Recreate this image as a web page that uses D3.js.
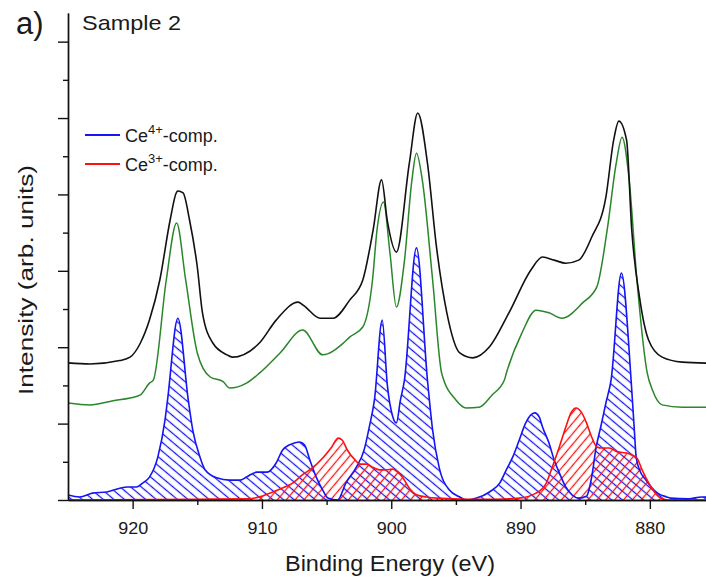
<!DOCTYPE html>
<html>
<head>
<meta charset="utf-8">
<script src="https://cdn.jsdelivr.net/npm/d3@7"></script>
<style>
  body { margin: 0; background: #fff; }
  text { font-family: "Liberation Sans", Arial, sans-serif; fill: #1a1a1a; }
</style>
</head>
<body>
<div id="chart"></div>
<script>
// measured spectrum, [binding energy (eV), intensity (arb.)]
const measured = [[925,3.59],[923.3,3.56],[921.0,3.65],[920.2,3.74],[919.4,4.11],[918.7,4.71],[917.9,5.76],[917.1,7.33],[916.6,8.06],[916.5,8.09],[916.1,8.04],[915.6,7.33],[915.0,6.1],[914.6,4.9],[913.8,4.11],[912.7,3.8],[912.3,3.74],[910.2,4.11],[908.9,4.71],[907.2,5.18],[906.8,5.1],[905.5,4.76],[904.5,4.76],[903.2,5.24],[902.2,5.76],[901.4,7.07],[900.75,8.38],[900.3,7.3],[899.6,6.49],[898.6,8.82],[897.95,10.13],[897.2,8.82],[896.5,6.62],[895.7,4.9],[894.7,3.85],[893.7,3.72],[892.4,4.01],[890.9,4.9],[889.2,6.02],[888.3,6.36],[887.4,6.28],[886.5,6.2],[885.5,6.28],[884.5,6.88],[883.4,7.93],[882.8,9.42],[882.4,9.92],[881.8,9.42],[881.4,7.07],[880.8,5.31],[880.1,4.19],[879.05,3.74],[877.5,3.61],[875,3.58]];

// background subtracted spectrum
const subtracted = [[925,2.54],[923.3,2.49],[921.5,2.6],[920.2,2.67],[919.4,2.75],[918.7,3.06],[918.4,3.14],[917.4,5.76],[916.6,7.25],[915.9,5.76],[915.0,3.85],[914.0,3.22],[913.0,3.1],[912.5,2.93],[911.2,3.06],[910.2,3.32],[908.6,3.85],[906.85,4.45],[905.3,3.8],[903.7,4.11],[903.2,4.27],[902.2,4.53],[901.45,5.76],[901.1,7.07],[900.6,7.8],[900.1,6.47],[899.6,5.05],[899.0,6.2],[898.4,8.38],[898.05,9.08],[897.6,8.38],[896.8,5.76],[896.1,3.32],[895.0,2.62],[894.2,2.41],[893.2,2.43],[892.2,2.75],[891.25,3.14],[891.1,3.32],[889.9,4.37],[888.8,4.97],[887.8,4.9],[886.8,4.76],[885.2,5.16],[884.1,5.58],[883.3,7.07],[882.6,8.82],[882.15,9.5],[881.6,8.38],[881.0,5.76],[880.2,3.32],[879.8,2.88],[879.05,2.49],[877.5,2.43],[875,2.43]];

const ce4 = [[925,0.13],[924.1,0.08],[923.1,0.18],[922.0,0.21],[921.0,0.31],[920.4,0.34],[919.7,0.34],[919.2,0.45],[918.7,0.6],[918.05,1.13],[917.5,2.09],[917.3,2.62],[916.5,4.76],[915.7,2.62],[915.35,1.83],[914.8,1.13],[914.4,0.79],[913.5,0.58],[912.5,0.52],[911.7,0.52],[911.2,0.6],[910.4,0.73],[909.6,0.73],[908.9,0.97],[908.4,1.31],[907.9,1.44],[907.5,1.49],[907.1,1.52],[906.7,1.44],[906.3,1.05],[905.8,0.6],[905.3,0.26],[904.9,0.05],[904.15,0],[903.5,0.45],[902.7,0.86],[902.1,1.31],[901.7,1.91],[901.3,2.62],[900.7,4.71],[900.3,3.0],[899.9,2.2],[899.6,2.02],[899.3,2.6],[898.98,3.14],[898.05,6.6],[897.2,3.14],[896.8,1.83],[896.3,0.86],[895.5,0.26],[894.7,0.08],[894.2,0],[893.4,0.05],[892.4,0.21],[891.6,0.45],[891.1,0.79],[890.6,1.13],[890.1,1.57],[889.6,2.02],[888.9,2.28],[888.55,2.17],[888.3,1.91],[887.8,1.49],[887.4,1.05],[887.0,0.71],[886.5,0.34],[886.0,0.13],[885.5,0.05],[884.9,0.1],[884.5,0.6],[884.15,1.39],[883.8,1.91],[883.4,2.54],[883.0,3.14],[882.2,5.94],[881.45,3.14],[881.2,1.83],[881.06,1.13],[880.8,0.79],[880.3,0.52],[879.9,0.34],[879.4,0.18],[878.7,0.08],[878.4,0.05],[877.0,0.03],[876.0,0.08],[875,0.05]];

const ce3 = [[925,0],[915,0.02],[911,0.03],[910,0.1],[909.2,0.2],[908.5,0.3],[907.6,0.45],[906.9,0.65],[906.1,0.84],[905.3,1.10],[904.6,1.39],[904.1,1.62],[903.8,1.57],[903.4,1.31],[902.8,1.05],[902.4,0.94],[901.9,0.94],[901.45,0.86],[900.9,0.79],[900.4,0.79],[899.9,0.81],[899.5,0.73],[899.1,0.58],[898.6,0.31],[898.0,0.13],[897.3,0.08],[896.5,0.05],[894,0.02],[892,0.02],[890.1,0.05],[888.8,0.18],[888.0,0.45],[887.55,0.86],[887.0,1.39],[886.5,1.91],[886.1,2.28],[885.7,2.41],[885.3,2.30],[884.9,2.02],[884.5,1.65],[884.1,1.39],[883.7,1.36],[883.15,1.36],[882.5,1.26],[881.8,1.23],[881.4,1.18],[881.0,1.10],[880.6,0.79],[879.9,0.34],[879.3,0.08],[878.7,0],[875,0]];

const xMajorTicks = [920, 910, 900, 890, 880];
const xMinorTicks = [915, 905, 895, 885];
const yMajorTicks = [0, 2, 4, 6, 8, 10, 12];
const yMinorTicks = [1, 3, 5, 7, 9, 11];
const legendLabels = [["4+", "#1414f5"], ["3+", "#ff1010"]];

const DrawSpectrum = function (selector) {
  var svg = d3.select(selector)
    .append("svg")
    .attr("width", 706)
    .attr("height", 581);

  var x = d3.scaleLinear().domain([925, 875]).range([68, 714.5]);
  var y = d3.scaleLinear().domain([0, 12.75]).range([500, 13]);

  // hatch patterns for the components
  var defs = svg.append("defs");
  function hatch(id, color, angle, gap) {
    defs.append("pattern")
      .attr("id", id)
      .attr("patternUnits", "userSpaceOnUse")
      .attr("width", gap)
      .attr("height", gap)
      .attr("patternTransform", "rotate(" + angle + ")")
      .append("line")
      .attr("x1", gap / 2).attr("y1", -1)
      .attr("x2", gap / 2).attr("y2", gap + 1)
      .attr("stroke", color)
      .attr("stroke-width", 1.25);
  }
  hatch("hatchBlue", "#1414f5", -50, 6.8);
  hatch("hatchRed", "#ff1010", 40, 6.8);

  var line = d3.line()
    .x((d) => x(d[0]))
    .y((d) => y(d[1]))
    .curve(d3.curveMonotoneX);

  var area = d3.area()
    .x((d) => x(d[0]))
    .y0(y(0))
    .y1((d) => y(d[1]))
    .curve(d3.curveMonotoneX);

  var plot = svg.append("g");

  plot.append("path").datum(ce4).attr("d", area).attr("fill", "url(#hatchBlue)");
  plot.append("path").datum(ce3).attr("d", area).attr("fill", "url(#hatchRed)");
  plot.append("path").datum(ce4).attr("d", line)
    .attr("fill", "none").attr("stroke", "#1414f5").attr("stroke-width", 1.6);
  plot.append("path").datum(ce3).attr("d", line)
    .attr("fill", "none").attr("stroke", "#ff1010").attr("stroke-width", 1.6);
  plot.append("path").datum(subtracted).attr("d", line)
    .attr("fill", "none").attr("stroke", "#2a862a").attr("stroke-width", 1.5);
  plot.append("path").datum(measured).attr("d", line)
    .attr("fill", "none").attr("stroke", "#111").attr("stroke-width", 1.6);

  // axes: minor ticks first, then labelled major ticks
  function styleAxis(g) {
    g.selectAll("line, path").attr("stroke", "#111").attr("stroke-width", 1.4);
  }
  svg.append("g")
    .attr("transform", "translate(0," + y(0) + ")")
    .call(d3.axisBottom(x).tickValues(xMinorTicks).tickSize(5).tickSizeOuter(0).tickFormat(""))
    .call(styleAxis);
  var xAxis = svg.append("g")
    .attr("transform", "translate(0," + y(0) + ")")
    .call(d3.axisBottom(x).tickValues(xMajorTicks).tickSize(9).tickSizeOuter(0).tickPadding(14))
    .call(styleAxis);
  xAxis.selectAll("text")
    .style("font-size", "16px")
    .attr("textLength", 30)
    .attr("lengthAdjust", "spacingAndGlyphs");

  svg.append("g")
    .attr("transform", "translate(" + x(925) + ",0)")
    .call(d3.axisLeft(y).tickValues(yMinorTicks).tickSize(5).tickSizeOuter(0).tickFormat(""))
    .call(styleAxis);
  svg.append("g")
    .attr("transform", "translate(" + x(925) + ",0)")
    .call(d3.axisLeft(y).tickValues(yMajorTicks).tickSize(10).tickSizeOuter(0).tickFormat(""))
    .call(styleAxis);

  // titles
  svg.append("text")
    .attr("x", 390).attr("y", 571)
    .attr("text-anchor", "middle")
    .style("font-size", "22px")
    .attr("textLength", 210)
    .attr("lengthAdjust", "spacingAndGlyphs")
    .text("Binding Energy (eV)");

  svg.append("text")
    .attr("transform", "translate(33,280) rotate(-90)")
    .attr("text-anchor", "middle")
    .style("font-size", "20px")
    .attr("textLength", 230)
    .attr("lengthAdjust", "spacingAndGlyphs")
    .text("Intensity (arb. units)");

  svg.append("text")
    .attr("x", 82).attr("y", 30)
    .style("font-size", "21px")
    .attr("textLength", 99)
    .attr("lengthAdjust", "spacingAndGlyphs")
    .text("Sample 2");

  svg.append("text")
    .attr("x", 16).attr("y", 34)
    .style("font-size", "31px")
    .text("a)");

  // legend
  var legend = svg.append("g");
  legendLabels.forEach(function (d, i) {
    var ly = 135 + i * 29;
    legend.append("line")
      .attr("x1", 85).attr("x2", 120)
      .attr("y1", ly).attr("y2", ly)
      .attr("stroke", d[1]).attr("stroke-width", 1.8);
    var t = legend.append("text")
      .attr("x", 125).attr("y", ly + 7)
      .style("font-size", "18px");
    t.append("tspan").text("Ce");
    t.append("tspan").attr("dy", -8).style("font-size", "13px").text(d[0]);
    t.append("tspan").attr("dy", 8).text("-comp.");
  });
};

DrawSpectrum("#chart");
</script>
</body>
</html>
